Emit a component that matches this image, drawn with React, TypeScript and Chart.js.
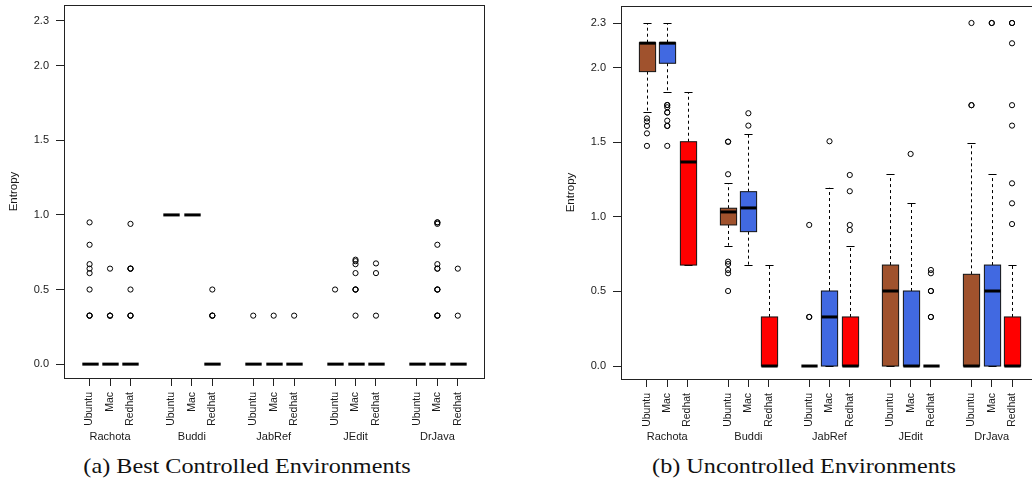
import React, { useEffect, useRef } from "react";
import { Chart, registerables } from "chart.js";

Chart.register(...registerables);

// ---------- data ----------
const groups = ["Rachota", "Buddi", "JabRef", "JEdit", "DrJava"];
const platforms = ["Ubuntu", "Mac", "Redhat"];
const platformColors = ["#A0522D", "#4169E1", "#FF0000"];
const yTickValues = [0, 0.5, 1.0, 1.5, 2.0, 2.3];

// (a) Best Controlled Environments  (order: group x platform)
const aLower = [0, 0, 0, 1, 1, 0, 0, 0, 0, 0, 0, 0, 0, 0, 0];
const aQ1 = [0, 0, 0, 1, 1, 0, 0, 0, 0, 0, 0, 0, 0, 0, 0];
const aMedian = [0, 0, 0, 1, 1, 0, 0, 0, 0, 0, 0, 0, 0, 0, 0];
const aQ3 = [0, 0, 0, 1, 1, 0, 0, 0, 0, 0, 0, 0, 0, 0, 0];
const aUpper = [0, 0, 0, 1, 1, 0, 0, 0, 0, 0, 0, 0, 0, 0, 0];
const aOutliers = [
  [0.95, 0.8, 0.67, 0.64, 0.61, 0.5, 0.325, 0.325, 0.325],
  [0.64, 0.325, 0.325, 0.325],
  [0.94, 0.64, 0.64, 0.64, 0.5, 0.325, 0.325, 0.325],
  [],
  [],
  [0.5, 0.325, 0.325, 0.325],
  [0.325],
  [0.325],
  [0.325],
  [0.5],
  [0.7, 0.69, 0.67, 0.61, 0.5, 0.5, 0.5, 0.325],
  [0.675, 0.61, 0.325],
  [],
  [0.95, 0.95, 0.94, 0.8, 0.67, 0.64, 0.64, 0.5, 0.5, 0.5, 0.325, 0.325, 0.325],
  [0.64, 0.325],
];

// (b) Uncontrolled Environments
const bLower = [1.7, 1.838, 0.677, 0.807, 0.677, 0, 0, 0, 0, 0, 0, 0, 0, 0, 0];
const bQ1 = [1.974, 2.03, 0.677, 0.946, 0.901, 0, 0, 0, 0, 0, 0, 0, 0, 0, 0];
const bMedian = [2.165, 2.165, 1.368, 1.033, 1.06, 0, 0, 0.329, 0, 0.503, 0, 0, 0, 0.503, 0];
const bQ3 = [2.168, 2.168, 1.504, 1.058, 1.169, 0.329, 0, 0.503, 0.329, 0.677, 0.503, 0, 0.615, 0.677, 0.329];
const bUpper = [2.3, 2.3, 1.838, 1.225, 1.558, 0.677, 0, 1.196, 0.807, 1.286, 1.093, 0, 1.498, 1.286, 0.677];
const bOutliers = [
  [1.66, 1.64, 1.61, 1.56, 1.476],
  [1.75, 1.75, 1.735, 1.7, 1.7, 1.645, 1.61, 1.61, 1.476],
  [],
  [1.504, 1.504, 1.286, 0.7, 0.684, 0.644, 0.622, 0.503],
  [1.695, 1.612],
  [],
  [0.946, 0.329, 0.329],
  [1.507],
  [1.281, 1.172, 0.946, 0.912],
  [],
  [1.422],
  [0.644, 0.622, 0.503, 0.503, 0.329, 0.329],
  [2.3, 1.749, 1.749],
  [2.3, 2.3],
  [2.3, 2.3, 2.164, 1.749, 1.612, 1.225, 1.091, 0.952],
];

// ---------- chart ----------
const TEXT = "#1a1a1a";
const SANS = "'Liberation Sans', Arial, Helvetica, sans-serif";

type PanelProps = {
  lower: number[];
  q1: number[];
  median: number[];
  q3: number[];
  upper: number[];
  outliers: number[][];
  yMin: number;
  yMax: number;
  xMin: number;
  xMax: number;
  padTop: number;
  padRight: number;
  x1Height: number;
  x2Height: number;
  width: number;
  height: number;
};

function BoxPanel(props: PanelProps) {
  const ref = useRef<HTMLCanvasElement>(null);
  useEffect(() => {
    const { lower, q1, median, q3, upper, outliers } = props;
    const positions: number[] = [];
    const colors: string[] = [];
    groups.forEach((_, gi) =>
      platforms.forEach((_, pi) => {
        positions.push(gi * 4 + pi + 1);
        colors.push(platformColors[pi]);
      })
    );
    const points: { x: number; y: number }[] = [];
    outliers.forEach((list, i) => list.forEach((v) => points.push({ x: positions[i], y: v })));

    const boxPlugin = {
      id: "boxplots",
      beforeDatasetsDraw(chart: any) {
        const { ctx, chartArea, scales } = chart;
        const x = scales.x;
        const y = scales.y;
        ctx.save();
        ctx.beginPath();
        ctx.rect(chartArea.left, chartArea.top, chartArea.right - chartArea.left, chartArea.bottom - chartArea.top);
        ctx.clip();
        positions.forEach((pos, i) => {
          const cx = Math.round(x.getPixelForValue(pos)) + 0.5;
          const hw = x.getPixelForValue(pos + 0.4) - x.getPixelForValue(pos);
          const sw = hw * 0.5;
          const yLo = y.getPixelForValue(lower[i]);
          const yQ1 = y.getPixelForValue(q1[i]);
          const yMed = y.getPixelForValue(median[i]);
          const yQ3 = y.getPixelForValue(q3[i]);
          const yUp = y.getPixelForValue(upper[i]);
          ctx.strokeStyle = "#000";
          ctx.lineWidth = 1;
          ctx.setLineDash([3, 3]);
          ctx.beginPath();
          if (upper[i] > q3[i]) {
            ctx.moveTo(cx, yQ3);
            ctx.lineTo(cx, yUp);
          }
          if (lower[i] < q1[i]) {
            ctx.moveTo(cx, yQ1);
            ctx.lineTo(cx, yLo);
          }
          ctx.stroke();
          ctx.setLineDash([]);
          ctx.beginPath();
          ctx.moveTo(cx - sw, Math.round(yUp) + 0.5);
          ctx.lineTo(cx + sw, Math.round(yUp) + 0.5);
          ctx.moveTo(cx - sw, Math.round(yLo) + 0.5);
          ctx.lineTo(cx + sw, Math.round(yLo) + 0.5);
          ctx.stroke();
          if (q3[i] > q1[i]) {
            ctx.fillStyle = colors[i];
            ctx.fillRect(cx - hw, yQ3, 2 * hw, yQ1 - yQ3);
            ctx.strokeStyle = "#111";
            ctx.strokeRect(cx - hw, yQ3, 2 * hw, yQ1 - yQ3);
          }
          ctx.strokeStyle = "#000";
          ctx.lineWidth = 3;
          ctx.beginPath();
          ctx.moveTo(cx - hw, yMed);
          ctx.lineTo(cx + hw, yMed);
          ctx.stroke();
        });
        ctx.restore();
      },
      afterDraw(chart: any) {
        const { ctx, chartArea } = chart;
        ctx.save();
        ctx.strokeStyle = "#222";
        ctx.lineWidth = 1;
        ctx.strokeRect(
          Math.round(chartArea.left) + 0.5,
          Math.round(chartArea.top) + 0.5,
          Math.round(chartArea.right - chartArea.left),
          Math.round(chartArea.bottom - chartArea.top)
        );
        ctx.restore();
      },
    };

    const chart = new Chart(ref.current as HTMLCanvasElement, {
      type: "scatter",
      data: {
        datasets: [
          {
            data: points,
            pointStyle: "circle",
            pointRadius: 2.6,
            pointBorderWidth: 1,
            pointBorderColor: "#000",
            pointBackgroundColor: "rgba(0,0,0,0)",
            showLine: false,
          } as any,
        ],
      },
      options: {
        responsive: false,
        animation: false,
        events: [],
        layout: { padding: { left: 0, top: props.padTop, right: props.padRight, bottom: 0 } },
        plugins: { legend: { display: false }, tooltip: { enabled: false } },
        scales: {
          x: {
            type: "linear",
            position: "bottom",
            weight: 0,
            min: props.xMin,
            max: props.xMax,
            afterBuildTicks: (scale: any) => {
              scale.ticks = positions.map((v) => ({ value: v }));
            },
            afterFit: (scale: any) => {
              scale.height = props.x1Height;
              scale.paddingLeft = 0;
              scale.paddingRight = 0;
            },
            ticks: {
              autoSkip: false,
              minRotation: 90,
              maxRotation: 90,
              padding: 6,
              color: TEXT,
              font: { family: SANS, size: 10.5 },
              callback: (v: any) => platforms[(Math.round(Number(v)) - 1) % 4],
            },
            grid: { drawOnChartArea: false, drawTicks: true, tickLength: 8, color: "#222" },
            border: { display: false },
          },
          x2: {
            type: "linear",
            position: "bottom",
            weight: 1,
            min: props.xMin,
            max: props.xMax,
            afterBuildTicks: (scale: any) => {
              scale.ticks = groups.map((_, gi) => ({ value: gi * 4 + 2 }));
            },
            afterFit: (scale: any) => {
              scale.height = props.x2Height;
              scale.paddingLeft = 0;
              scale.paddingRight = 0;
            },
            ticks: {
              autoSkip: false,
              minRotation: 0,
              maxRotation: 0,
              padding: 0,
              color: TEXT,
              font: { family: SANS, size: 11 },
              callback: (v: any) => groups[Math.round((Number(v) - 2) / 4)],
            },
            grid: { display: false, drawTicks: false },
            border: { display: false },
          },
          y: {
            type: "linear",
            position: "left",
            min: props.yMin,
            max: props.yMax,
            afterBuildTicks: (scale: any) => {
              scale.ticks = yTickValues.map((v) => ({ value: v }));
            },
            afterFit: (scale: any) => {
              scale.width = 64;
              scale.paddingTop = 0;
              scale.paddingBottom = 0;
            },
            ticks: {
              padding: 7,
              color: TEXT,
              font: { family: SANS, size: 11 },
              callback: (v: any) => Number(v).toFixed(1),
            },
            grid: { drawOnChartArea: false, drawTicks: true, tickLength: 8, color: "#222" },
            border: { display: false },
            title: {
              display: true,
              text: "Entropy",
              color: TEXT,
              font: { family: SANS, size: 11.5 },
              padding: { top: 7, bottom: 0 },
            },
          },
        },
      } as any,
      plugins: [boxPlugin],
    });
    return () => chart.destroy();
  }, []);
  return (
    <canvas
      ref={ref}
      width={props.width}
      height={props.height}
      style={{ display: "block", width: props.width, height: props.height }}
    />
  );
}

const captionStyle: React.CSSProperties = {
  position: "absolute",
  width: 400,
  textAlign: "center",
  fontFamily: "'Liberation Serif', 'Times New Roman', serif",
  fontSize: 22,
  lineHeight: "22px",
  color: "#111",
  transform: "scaleX(1.1)",
  whiteSpace: "nowrap",
};

export default function App() {
  return (
    <div
      style={{
        position: "fixed",
        left: 0,
        top: 0,
        width: 1032,
        height: 489,
        overflow: "hidden",
        background: "#fff",
      }}
    >
      <div style={{ position: "absolute", left: 0, top: 0 }}>
        <BoxPanel
          lower={aLower}
          q1={aQ1}
          median={aMedian}
          q3={aQ3}
          upper={aUpper}
          outliers={aOutliers}
          yMin={-0.093}
          yMax={2.407}
          xMin={-0.25}
          xMax={20.28}
          padTop={3}
          padRight={16}
          x1Height={52}
          x2Height={20}
          width={500}
          height={450}
        />
      </div>
      <div style={{ position: "absolute", left: 557, top: 0 }}>
        <BoxPanel
          lower={bLower}
          q1={bQ1}
          median={bMedian}
          q3={bQ3}
          upper={bUpper}
          outliers={bOutliers}
          yMin={-0.087}
          yMax={2.414}
          xMin={-0.28}
          xMax={20.28}
          padTop={6}
          padRight={9}
          x1Height={51}
          x2Height={20}
          width={490}
          height={450}
        />
      </div>
      <div style={{ ...captionStyle, left: 247 - 200, top: 455 }}>(a) Best Controlled Environments</div>
      <div style={{ ...captionStyle, left: 804 - 200, top: 455 }}>(b) Uncontrolled Environments</div>
    </div>
  );
}
